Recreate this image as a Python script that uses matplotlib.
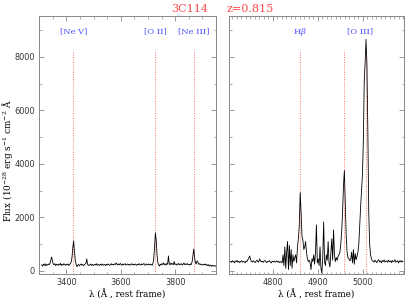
import numpy as np
import matplotlib
matplotlib.use('Agg')
import matplotlib.pyplot as plt
from matplotlib.ticker import MultipleLocator

plt.rcParams['mathtext.fontset'] = 'dejavuserif'

# --- spectrum of 3C114, rest frame (z = 0.815) ---
blue_start, blue_step = 3310, 3
blue_flux = [
    230, 180, 250, 210, 270, 190, 240, 220, 260, 230,
    280, 400, 520, 380, 260, 230, 270, 200, 250, 240,
    210, 260, 230, 280, 200, 250, 220, 270, 240, 210,
    250, 230, 260, 200, 240, 280, 330, 520, 900, 1120,
    720, 380, 250, 160, 210, 240, 190, 230, 260, 210,
    240, 200, 230, 260, 280, 450, 250, 200, 230, 220,
    260, 210, 240, 200, 230, 250, 220, 270, 210, 240,
    230, 200, 250, 220, 260, 210, 230, 240, 200, 250,
    220, 260, 230, 210, 240, 270, 220, 250, 230, 260,
    240, 300, 250, 220, 260, 230, 280, 240, 210, 260,
    230, 250, 270, 220, 240, 260, 230, 250, 210, 240,
    270, 230, 250, 220, 260, 240, 210, 250, 230, 270,
    240, 220, 260, 230, 250, 280, 230, 210, 260, 240,
    230, 260, 220, 250, 240, 210, 280, 450, 900, 1420,
    1150, 600, 320, 230, 180, 250, 220, 270, 240, 300,
    230, 260, 220, 280, 250, 560, 260, 230, 300, 250,
    270, 230, 350, 240, 260, 220, 250, 280, 230, 260,
    240, 270, 220, 250, 300, 230, 260, 240, 280, 230,
    250, 220, 260, 240, 350, 600, 820, 500, 300, 260,
    380, 330, 250, 270, 230, 260, 240, 220, 250, 230,
    260, 210, 240, 200, 230, 180, 220, 200, 170, 210,
    190, 200, 170, 190,
]

red_start, red_step = 4705, 2
red_flux = [
    340, 360, 320, 380, 350, 300, 370, 340, 390, 330,
    360, 310, 350, 380, 330, 360, 340, 300, 370, 350,
    420, 480, 560, 430, 350, 330, 380, 350, 310, 360,
    400, 350, 330, 450, 380, 340, 360, 320, 370, 390,
    340, 310, 360, 350, 380, 330, 300, 360, 340, 370,
    320, 350, 380, 330, 360, 310, 340,
    350, 300, 600, 200, 900, 100, 700, 1100, 50, 950, 200, 800, 100, 600, 350, 500,
    600, 300, 900, 1200, 1700, 2930, 2200, 1300, 1150, 800, 900, 1100, 700, 450, 350,
    400, 300, 50, 450, 350, 600, 250, 700, 1720, 300,
    450, 200, 900, 100, -80, 500, 1830, 350, 200, 600,
    400, 1100, 300, 150, 700, 1200, 400, 1530, 600, 350,
    500, 400, 550, 600,
    700, 1000, 1470, 2200, 3200, 3750, 2500, 1300, 700, 500,
    450, 380, 420, 700, 300, 800, 250, 650, 420, 550,
    700, 1000, 1700, 2400, 3000, 3600, 4800, 7100, 7800, 8660,
    7700, 5200, 2200, 1000, 600, 450, 380,
    360, 330, 400, 350, 310, 380, 420, 340, 370, 300,
    390, 350, 410, 330, 360, 380, 320, 400, 350, 370,
    310, 390, 340, 360, 420, 330, 350, 380, 300, 370,
    340, 390, 330, 360,
]

blue_lines = [3426, 3727, 3869]
blue_names = ['[Ne V]', '[O II]', '[Ne III]']
red_lines = [4861, 4959, 5007]
# one label for Hbeta, one shared by the [O III] doublet
red_names = [r'H$\beta$', '[O III]']
red_label_pos = [4861, 4993]

blue_wave = blue_start + blue_step * np.arange(len(blue_flux))
red_wave = red_start + red_step * np.arange(len(red_flux))

fig = plt.figure(figsize=(4.07, 2.98), dpi=100)
ax1 = fig.add_axes([0.096, 0.081, 0.435, 0.866])
ax2 = fig.add_axes([0.563, 0.081, 0.430, 0.866])

serif = 'DejaVu Serif'
marker_col = '#ff7070'
label_col = '#4a4aff'
ylo, yhi = -110, 9540

for ax, wave, flux, lines, pos, names in [
        (ax1, blue_wave, blue_flux, blue_lines, blue_lines, blue_names),
        (ax2, red_wave, red_flux, red_lines, red_label_pos, red_names)]:
    ax.vlines(lines, ylo, 8250, colors=marker_col, linestyles=(0, (1, 1.5)), linewidth=0.7, zorder=1)
    ax.plot(wave, flux, color='black', linewidth=0.6, zorder=2)
    for w, n in zip(pos, names):
        ax.text(w, 8950, n, ha='center', va='center', fontsize=6, color=label_col, family=serif)
    ax.set_ylim(ylo, yhi)
    ax.yaxis.set_major_locator(MultipleLocator(2000))
    ax.yaxis.set_minor_locator(MultipleLocator(1000))
    ax.tick_params(which='both', direction='in', top=True, right=True,
                   labelsize=5.9, colors='#333333', pad=3)
    ax.tick_params(which='major', length=3.5, width=0.6, color='#888888')
    ax.tick_params(which='minor', length=1.8, width=0.5, color='#888888')
    for s in ax.spines.values():
        s.set_color('#888888')
        s.set_linewidth(0.7)
    ax.set_xlabel('λ (Å , rest frame)', fontsize=6.3, family=serif, labelpad=1.5)

ax1.set_xlim(3300, 3950)
ax1.xaxis.set_major_locator(MultipleLocator(200))
ax1.xaxis.set_minor_locator(MultipleLocator(50))

ax2.set_xlim(4703.5, 5091.5)
ax2.xaxis.set_major_locator(MultipleLocator(100))
ax2.xaxis.set_minor_locator(MultipleLocator(10))
ax2.tick_params(labelleft=False)

fig.text(0.018, 0.46, r'Flux (10$^{-28}$ erg s$^{-1}$ cm$^{-2}$ Å', rotation=90,
         ha='center', va='center', fontsize=6.4, family=serif)
fig.text(0.467, 0.985, '3C114', ha='center', va='top', fontsize=8, color='#ff4a4a', family=serif)
fig.text(0.614, 0.985, 'z=0.815', ha='center', va='top', fontsize=8, color='#ff4a4a', family=serif)

fig.savefig('out.png', dpi=100)
